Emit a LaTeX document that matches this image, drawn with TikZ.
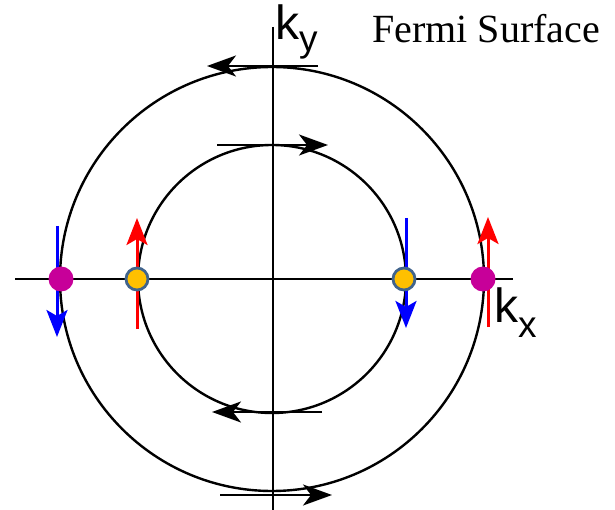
\documentclass[tikz,border=0pt]{standalone}
\usepackage{fontspec}
\setmainfont{Liberation Serif}
\newfontfamily\arialf{Liberation Sans}
\usetikzlibrary{arrows.meta}
\definecolor{dotmag}{RGB}{199,0,153}
\definecolor{dotorange}{RGB}{255,192,0}
\definecolor{dotedge}{RGB}{65,100,140}
\tikzset{
  axisline/.style={line width=2.2pt, black},
  fermi/.style={line width=2.4pt, black},
  tangentarrow/.style={line width=2.2pt, black, -{Stealth[length=29pt, width=21pt, inset=8pt]}},
  spinup/.style={line width=3pt, red, -{Stealth[length=27pt, width=21pt, inset=6pt]}},
  spindown/.style={line width=3pt, blue, -{Stealth[length=27pt, width=21pt, inset=6pt]}},
  magdot/.style={circle, fill=dotmag, minimum size=25pt, inner sep=0pt},
  orgdot/.style={circle, fill=dotorange, draw=dotedge, line width=2.8pt, minimum size=22pt, inner sep=0pt},
  klabel/.style={font=\arialf\fontsize{48}{56}\selectfont, inner sep=0pt, anchor=base west},
}
\begin{document}
\begin{tikzpicture}[x=1pt, y=-1pt]
\useasboundingbox (0,0) rectangle (615,510);
% axes
\coordinate (xl) at (15,279);
\coordinate (xr) at (513,279);
\coordinate (yt) at (273,27);
\coordinate (yb) at (273,510);
\draw[axisline] (xl) -- (xr);
\draw[axisline] (yt) -- (yb);
% circles
\coordinate (c) at (272,279);
\draw[fermi] (c) circle[radius=212];
\draw[fermi] (c) circle[radius=134];
% tangent arrows
\coordinate (ot1) at (318,66);  \coordinate (ot2) at (207,66);
\coordinate (it1) at (217,145); \coordinate (it2) at (328,145);
\coordinate (ib1) at (322,412); \coordinate (ib2) at (212,412);
\coordinate (ob1) at (220,495); \coordinate (ob2) at (332,495);
\draw[tangentarrow] (ot1) -- (ot2);
\draw[tangentarrow] (it1) -- (it2);
\draw[tangentarrow] (ib1) -- (ib2);
\draw[tangentarrow] (ob1) -- (ob2);
% spin arrows
\coordinate (s1a) at (57,226);  \coordinate (s1b) at (57,337);
\coordinate (s2a) at (137,329); \coordinate (s2b) at (137,218);
\coordinate (s3a) at (406,218); \coordinate (s3b) at (406,328);
\coordinate (s4a) at (488,327); \coordinate (s4b) at (488,217);
\draw[spindown] (s1a) -- (s1b);
\draw[spinup] (s2a) -- (s2b);
\draw[spindown] (s3a) -- (s3b);
\draw[spinup] (s4a) -- (s4b);
% dots
\node[magdot] (d1) at (61,279) {};
\node[orgdot] (d2) at (137,279) {};
\node[orgdot] (d3) at (404,279) {};
\node[magdot] (d4) at (483,279) {};
% labels
\node[klabel] (kx) at (494,323) {k\raisebox{-14pt}{\fontsize{37}{42}\selectfont x}};
\node[klabel] (ky) at (275,40) {k\raisebox{-12pt}{\fontsize{37}{42}\selectfont y}};
\node[font=\fontsize{40}{48}\selectfont, inner sep=0pt, anchor=base west] (title) at (372,43) {Fermi Surface};
\end{tikzpicture}
\end{document}
